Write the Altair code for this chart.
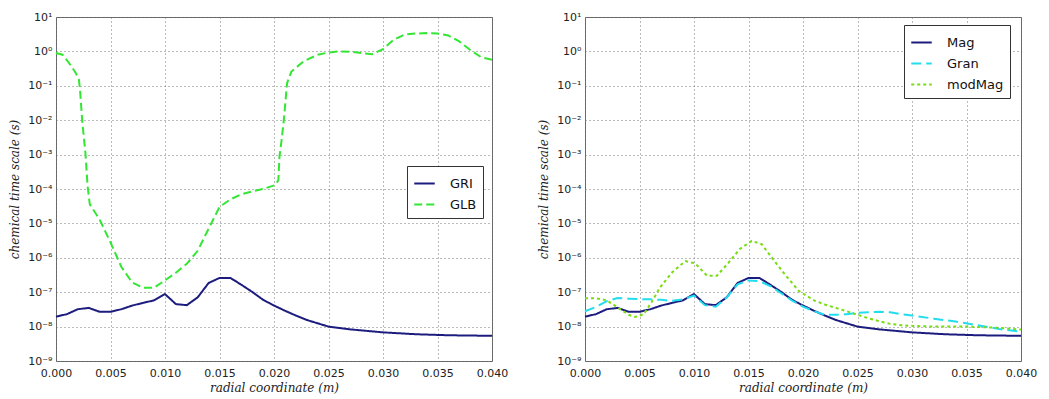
import altair as alt
import pandas as pd

# ---------------- data ----------------
gri_x = [0.000, 0.001, 0.002, 0.003, 0.004, 0.005, 0.006, 0.007, 0.008, 0.009,
         0.010, 0.011, 0.012, 0.013, 0.014, 0.015, 0.016, 0.017, 0.018, 0.019,
         0.020, 0.021, 0.022, 0.023, 0.024, 0.025, 0.027, 0.030, 0.033, 0.036, 0.040]
gri_y = [1.95e-8, 2.3e-8, 3.2e-8, 3.5e-8, 2.7e-8, 2.7e-8, 3.2e-8, 4.1e-8, 4.9e-8, 5.8e-8,
         8.8e-8, 4.5e-8, 4.2e-8, 7.1e-8, 1.85e-7, 2.6e-7, 2.6e-7, 1.65e-7, 1.02e-7, 6.0e-8,
         4.1e-8, 2.9e-8, 2.1e-8, 1.56e-8, 1.25e-8, 1.0e-8, 8.3e-9, 6.8e-9, 6.0e-9, 5.6e-9, 5.4e-9]

glb_x = [0.0000, 0.0006, 0.0012, 0.0018, 0.0021, 0.0022, 0.0024, 0.0027, 0.0029, 0.0031,
         0.004, 0.005, 0.006, 0.007, 0.008, 0.009, 0.010, 0.011, 0.012, 0.013,
         0.014, 0.015, 0.016, 0.017, 0.018, 0.019, 0.0201, 0.0204, 0.0205, 0.0207,
         0.0209, 0.0212, 0.0216, 0.0227, 0.024, 0.025, 0.026, 0.027, 0.028, 0.029,
         0.030, 0.031, 0.032, 0.033, 0.034, 0.035, 0.036, 0.037, 0.038, 0.039, 0.040]
glb_y = [0.9, 0.8, 0.46, 0.24, 0.15, 0.08, 1e-2, 1.1e-3, 1.2e-4, 3.6e-5,
         1.3e-5, 2.8e-6, 5.4e-7, 1.9e-7, 1.35e-7, 1.35e-7, 2.2e-7, 3.7e-7, 6.7e-7, 1.6e-6,
         7e-6, 3e-5, 5e-5, 7e-5, 8.5e-5, 1.0e-4, 1.3e-4, 1.8e-4, 8.7e-4, 2.7e-3,
         1e-2, 0.12, 0.26, 0.51, 0.8, 0.93, 1.0, 0.98, 0.9, 0.83,
         1.17, 2.2, 3.1, 3.3, 3.4, 3.3, 2.9, 1.95, 1.1, 0.68, 0.57]

gran_x = [0.000, 0.001, 0.002, 0.003, 0.004, 0.005, 0.006, 0.007, 0.008, 0.009,
          0.010, 0.011, 0.012, 0.013, 0.014, 0.015, 0.016, 0.017, 0.018, 0.019,
          0.020, 0.021, 0.022, 0.023, 0.024, 0.025, 0.026, 0.027, 0.028, 0.029,
          0.030, 0.032, 0.034, 0.036, 0.038, 0.040]
gran_y = [2.8e-8, 3.7e-8, 5.5e-8, 6.8e-8, 6.5e-8, 6.3e-8, 6.2e-8, 6.0e-8, 5.6e-8, 6.2e-8,
          8.0e-8, 4.2e-8, 3.8e-8, 7.0e-8, 1.7e-7, 2.2e-7, 2.1e-7, 1.5e-7, 9.3e-8, 5.7e-8,
          3.8e-8, 2.8e-8, 2.2e-8, 2.2e-8, 2.3e-8, 2.5e-8, 2.6e-8, 2.7e-8, 2.6e-8, 2.3e-8,
          2.1e-8, 1.7e-8, 1.4e-8, 1.1e-8, 8.5e-9, 7.1e-9]

mod_x = [0.000, 0.001, 0.002, 0.003, 0.004, 0.0046, 0.0054, 0.0061, 0.0069, 0.008,
         0.0092, 0.0101, 0.0112, 0.0121, 0.0131, 0.0142, 0.0153, 0.0162, 0.0171, 0.0183,
         0.0196, 0.021, 0.022, 0.023, 0.024, 0.025, 0.026, 0.027, 0.028, 0.029,
         0.030, 0.032, 0.035, 0.038, 0.040]
mod_y = [6.7e-8, 6.7e-8, 5.8e-8, 3.6e-8, 2.2e-8, 1.9e-8, 2.3e-8, 5.1e-8, 1.4e-7, 3.8e-7,
         8.0e-7, 6.9e-7, 3.0e-7, 3.0e-7, 6.8e-7, 1.8e-6, 3.1e-6, 2.5e-6, 1.05e-6, 3.4e-7,
         1.1e-7, 5.8e-8, 4.4e-8, 3.5e-8, 2.8e-8, 2.2e-8, 1.75e-8, 1.43e-8, 1.2e-8, 1.1e-8,
         1.05e-8, 1.0e-8, 1.0e-8, 9.2e-9, 8.2e-9]

x_ticks = [0.000, 0.005, 0.010, 0.015, 0.020, 0.025, 0.030, 0.035, 0.040]
y_ticks = [1e-9, 1e-8, 1e-7, 1e-6, 1e-5, 1e-4, 1e-3, 1e-2, 1e-1, 1e0, 1e1]
y_tick_labels = ["10⁻⁹", "10⁻⁸", "10⁻⁷", "10⁻⁶", "10⁻⁵", "10⁻⁴",
                 "10⁻³", "10⁻²", "10⁻¹", "10⁰", "10¹"]

left_series = ["GRI", "GLB"]
left_colors = ["#1c1c7e", "#33e633"]
left_dashes = [[1, 0], [8, 4]]

right_series = ["Mag", "Gran", "modMag"]
right_colors = ["#1c1c7e", "#22ddee", "#77dd11"]
right_dashes = [[1, 0], [10, 5], [3, 3]]


def make_df(parts):
    frames = []
    for name, xs, ys in parts:
        frames.append(pd.DataFrame({"x": xs, "y": ys, "series": name}))
    return pd.concat(frames, ignore_index=True)


left_df = make_df([("GRI", gri_x, gri_y), ("GLB", glb_x, glb_y)])
right_df = make_df([("Mag", gri_x, gri_y), ("Gran", gran_x, gran_y),
                    ("modMag", mod_x, mod_y)])

label_array = "[" + ",".join("'" + s + "'" for s in y_tick_labels) + "]"
y_label_expr = label_array + "[round(log(datum.value)/LN10)+9]"

W, H = 436, 344


def panel(df, series, colors, dashes, lx, ly):
    legend = alt.Legend(
        title=None, orient="none", legendX=lx, legendY=ly,
        fillColor="white", strokeColor="#333", padding=6,
        symbolType="stroke", symbolSize=420, symbolStrokeWidth=2,
        labelFont="DejaVu Sans", labelFontSize=13, labelColor="#111",
        labelOffset=14, rowPadding=2, cornerRadius=0,
    )
    return alt.Chart(df).mark_line(strokeWidth=2).encode(
        x=alt.X("x:Q",
                scale=alt.Scale(domain=[0, 0.04], nice=False, zero=False),
                axis=alt.Axis(values=x_ticks, format=".3f", labelFlush=False,
                              labelPadding=6, titlePadding=4,
                              title="radial coordinate (m)")),
        y=alt.Y("y:Q",
                scale=alt.Scale(type="log", domain=[1e-9, 10], nice=False),
                axis=alt.Axis(values=y_ticks, labelExpr=y_label_expr,
                              title="chemical time scale (s)")),
        color=alt.Color("series:N",
                        scale=alt.Scale(domain=series, range=colors),
                        legend=legend),
        strokeDash=alt.StrokeDash("series:N",
                                  scale=alt.Scale(domain=series, range=dashes),
                                  legend=legend),
        detail="series:N",
    ).properties(width=W, height=H)


left = panel(left_df, left_series, left_colors, left_dashes, 351, 149)
right = panel(right_df, right_series, right_colors, right_dashes, 319, 8)

chart = alt.hconcat(left, right, spacing=28).resolve_scale(
    color="independent", strokeDash="independent"
).resolve_legend(
    color="independent", strokeDash="independent"
).properties(
    padding={"left": 0, "top": 2, "right": 0, "bottom": 0}
).configure_view(
    stroke="#666", strokeWidth=1
).configure_axis(
    domain=False, ticks=False,
    grid=True, gridColor="#777", gridDash=[1, 3], gridWidth=1,
    labelFont="DejaVu Sans", labelFontSize=11, labelColor="#222",
    labelPadding=4,
    titleFont="DejaVu Serif", titleFontStyle="italic", titleFontWeight="normal",
    titleFontSize=12, titleColor="#222", titlePadding=6,
)

chart.save("out.html", embed_options={"renderer": "svg", "actions": False})
